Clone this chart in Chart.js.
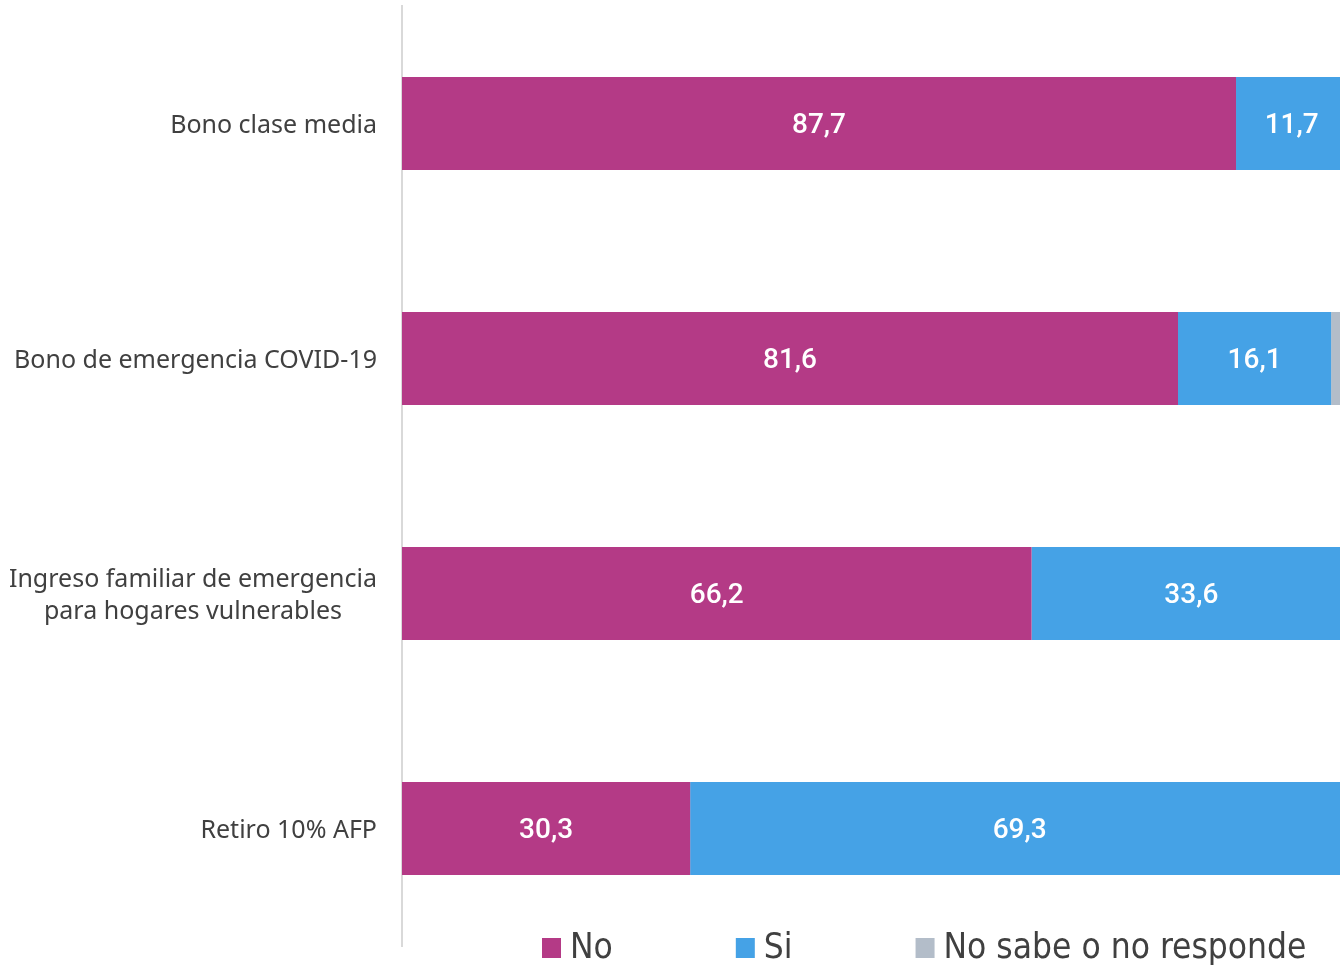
<!DOCTYPE html>
<html>
<head>
<meta charset="utf-8">
<script src="https://cdn.jsdelivr.net/npm/chart.js@4"></script>
<style>
  html, body { margin: 0; padding: 0; overflow: hidden; background: #fff; }
  #wrap { position: absolute; left: 0; top: 0; width: 1354px; height: 967px; }
</style>
</head>
<body>
<div id="wrap"><canvas id="grafico"></canvas></div>
<script>
let categorias = ['Bono clase media', 'Bono de emergencia COVID-19', ['Ingreso familiar de emergencia', 'para hogares vulnerables'], 'Retiro 10% AFP'];
let valoresNo = [87.7, 81.6, 66.2, 30.3];
let valoresSi = [11.7, 16.1, 33.6, 69.3];
let valoresNsnr = [0.6, 2.3, 0.2, 0.4];
let nombres = ['No', 'Si', 'No sabe o no responde'];
let colores = ['#B43A86', '#45A2E6', '#B3BDC9'];

// etiquetas dentro de las barras (blanco, con coma decimal)
const etiquetasBarras = {
    id: 'etiquetasBarras',
    afterDatasetsDraw(chart) {
        const ctx = chart.ctx;
        ctx.save();
        ctx.font = '500 28px Roboto, "Open Sans", sans-serif';
        ctx.fillStyle = '#ffffff';
        ctx.textAlign = 'center';
        ctx.textBaseline = 'middle';
        [0, 1].forEach(function(d){
            chart.getDatasetMeta(d).data.forEach(function(bar, i){
                let v = chart.data.datasets[d].data[i];
                let x = (bar.x + bar.base) / 2;
                ctx.fillText(v.toFixed(1).replace('.', ','), x, bar.y + 2);
            });
        });
        ctx.restore();
    }
};

// etiquetas del eje y: bloque alineado a la derecha, lineas centradas
const etiquetasEje = {
    id: 'etiquetasEje',
    afterDraw(chart) {
        const ctx = chart.ctx;
        const y = chart.scales.y;
        ctx.save();
        ctx.font = '25px "Noto Sans", sans-serif';
        ctx.fillStyle = '#404040';
        ctx.textAlign = 'center';
        ctx.textBaseline = 'middle';
        categorias.forEach(function(cat, i){
            let lineas = Array.isArray(cat) ? cat : [cat];
            let ancho = Math.max.apply(null, lineas.map(l => ctx.measureText(l).width));
            let cx = chart.chartArea.left - 25 - ancho / 2;
            let cy = y.getPixelForValue(i) + 2 - (lineas.length - 1) * 16;
            lineas.forEach(function(l, k){
                ctx.fillText(l, cx, cy + k * 32);
            });
        });
        ctx.restore();
    }
};

// leyenda abajo
const leyenda = {
    id: 'leyenda',
    afterDraw(chart) {
        const ctx = chart.ctx;
        ctx.save();
        ctx.font = '35px "Liberation Sans Narrow", "DejaVu Sans Condensed", sans-serif';
        ctx.textBaseline = 'middle';
        ctx.textAlign = 'left';
        let x = chart.chartArea.left + 140;
        let yc = 948;
        nombres.forEach(function(n, i){
            ctx.fillStyle = colores[i];
            ctx.fillRect(x, yc - 10, 19, 20);
            ctx.fillStyle = '#404040';
            ctx.fillText(n, x + 28, yc + 1);
            x += 28 + ctx.measureText(n).width + 123;
        });
        ctx.restore();
    }
};

let chart = new Chart(document.getElementById('grafico'), {
    type: 'bar',
    data: {
        labels: categorias,
        datasets: [
            { label: nombres[0], data: valoresNo, backgroundColor: colores[0] },
            { label: nombres[1], data: valoresSi, backgroundColor: colores[1] },
            { label: nombres[2], data: valoresNsnr, backgroundColor: colores[2] }
        ]
    },
    options: {
        indexAxis: 'y',
        responsive: true,
        maintainAspectRatio: false,
        animation: false,
        layout: { padding: { top: 6, bottom: 21, left: 0, right: 1 } },
        datasets: { bar: { categoryPercentage: 1, barPercentage: 0.396, borderWidth: 0 } },
        scales: {
            x: { stacked: true, min: 0, max: 100, display: false },
            y: {
                stacked: true,
                grid: { display: false },
                border: { display: true, color: '#D9D9D9', width: 2 },
                ticks: { display: false },
                afterFit: function(s){ s.width = 402; }
            }
        },
        plugins: {
            legend: { display: false },
            tooltip: { enabled: false }
        }
    },
    plugins: [etiquetasBarras, etiquetasEje, leyenda]
});
</script>
</body>
</html>
